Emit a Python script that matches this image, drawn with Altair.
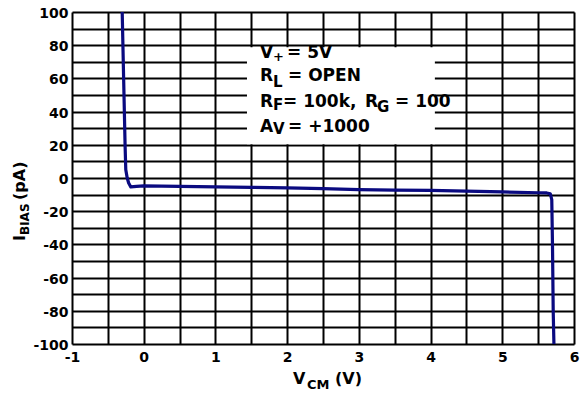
import altair as alt
import pandas as pd

# curve data (V_CM in volts, I_BIAS in pA)
vcm = [-0.30, -0.29, -0.28, -0.27, -0.26, -0.25, -0.23, -0.21, -0.18, -0.10, 0.0, 0.5, 1.0, 1.5,
       2.0, 2.5, 3.0, 3.5, 4.0, 4.5, 5.0, 5.5, 5.62, 5.67, 5.69, 5.70, 5.71, 5.72]
ibias = [100, 80, 60, 40, 20, 5, 0, -3, -5.4, -5.0, -4.7, -5.0, -5.4, -5.6,
         -5.9, -6.4, -7.0, -7.3, -7.5, -7.9, -8.4, -8.9, -9.0, -9.5, -13, -40, -80, -100]

x_ticks = [-1, -0.5, 0, 0.5, 1, 1.5, 2, 2.5, 3, 3.5, 4, 4.5, 5, 5.5, 6]
y_ticks = [-100, -90, -80, -70, -60, -50, -40, -30, -20, -10, 0, 10, 20, 30, 40, 50, 60, 70, 80, 90, 100]

# annotation text segments: (text, x px, baseline px, font size)
note_segments = [
    ("V", 188, 46, 17), ("+", 201, 49, 13), ("= 5V", 215, 46, 17),
    ("R", 188, 69, 17), ("L", 201, 75, 15), ("= OPEN", 216, 69, 17),
    ("R", 188, 95, 17), ("F", 201, 98, 15), ("= 100k,", 211, 95, 17),
    ("R", 293, 95, 17), ("G", 305, 100, 15), ("= 100", 323, 95, 17),
    ("A", 188, 120, 17), ("V", 201, 122, 15), ("= +1000", 216, 120, 17),
]
xtitle_segments = [("V", 221, 372, 16), ("CM", 235, 377, 13), ("(V)", 263, 372, 16)]
ytitle_segments = [("I", -47, 229, 16), ("BIAS", -43, 223, 12), ("(pA)", -47, 188, 16)]

FONT = "DejaVu Sans"
W, H = 502, 332

df = pd.DataFrame({"vcm": vcm, "ibias": ibias})

xscale = alt.Scale(domain=[-1, 6], nice=False, zero=False)
yscale = alt.Scale(domain=[-100, 100], nice=False, zero=False)

base_axis = dict(grid=True, gridColor="black", gridWidth=2, gridOpacity=1,
                 domain=False, ticks=False, labelFont=FONT, labelFontSize=14,
                 labelFontWeight="bold", labelColor="black", title=None,
                 labelOverlap=False, labelFlush=False)

x_axis = alt.Axis(values=x_ticks, labelExpr="datum.value % 1 === 0 ? '' + datum.value : ''",
                  labelPadding=6, **base_axis)
y_axis = alt.Axis(values=y_ticks, labelExpr="datum.value % 20 === 0 ? '' + datum.value : ''",
                  labelPadding=4, labelOffset=1.5, **base_axis)

box_df = pd.DataFrame({"x": [1.44], "x2": [4.06], "y": [78.8], "y2": [20.4]})
box = alt.Chart(box_df).mark_rect(color="white").encode(
    x=alt.X("x:Q", scale=xscale, axis=x_axis), x2="x2:Q",
    y=alt.Y("y:Q", scale=yscale, axis=y_axis), y2="y2:Q")

line = alt.Chart(df).mark_line(color="#0a0a80", strokeWidth=3.2, strokeJoin="round").encode(
    x=alt.X("vcm:Q", scale=xscale, axis=x_axis),
    y=alt.Y("ibias:Q", scale=yscale, axis=y_axis),
)


def seg_layer(segs, angle=0):
    d = pd.DataFrame(segs, columns=["t", "px", "py", "fs"])
    layers = []
    for fs in sorted(d["fs"].unique()):
        sub = d[d["fs"] == fs]
        layers.append(
            alt.Chart(sub).mark_text(font=FONT, fontWeight="bold", fontSize=int(fs), color="black",
                                     align="left", baseline="alphabetic", angle=angle).encode(
                x=alt.X("px:Q", scale=None), y=alt.Y("py:Q", scale=None), text="t:N"))
    return layers


texts = seg_layer(note_segments) + seg_layer(xtitle_segments) + seg_layer(ytitle_segments, angle=270)

chart = alt.layer(box, line, *texts).properties(
    width=W, height=H,
    autosize=alt.AutoSizeParams(type="none"),
    padding={"left": 64, "top": 4, "right": 6, "bottom": 46},
).configure_view(stroke="black", strokeWidth=2).configure(background="white")

chart.save("out.html", embed_options={"renderer": "svg", "actions": False})
